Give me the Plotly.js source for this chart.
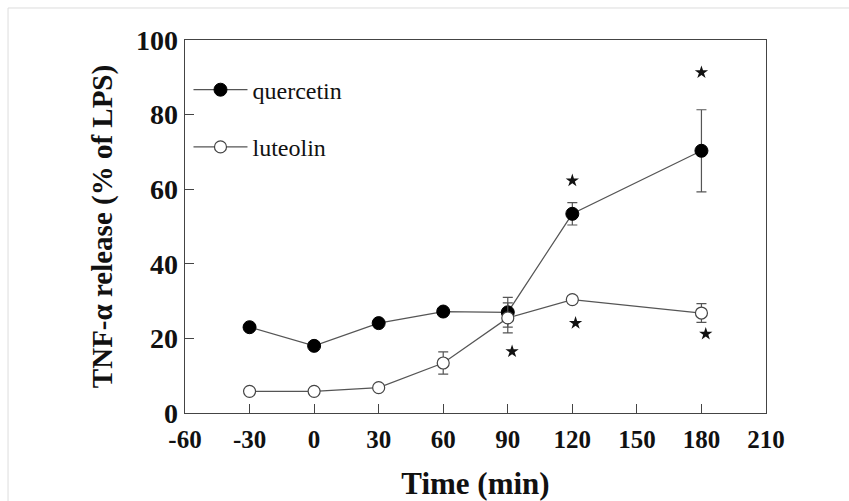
<!DOCTYPE html>
<html>
<head>
<meta charset="utf-8">
<script src="https://cdn.plot.ly/plotly-3.0.1.min.js"></script>
<style>html,body{margin:0;padding:0;background:#fff;}#chart{width:849px;height:501px;}</style>
</head>
<body>
<div id="chart"></div>
<script>
// Data
const timeMin = [-30, 0, 30, 60, 90, 120, 180];
const quercetin = [23, 18, 24.1, 27.2, 27, 53.4, 70.3];
const quercetinErr = [null, null, null, null, 4, 3, 11];
const luteolin = [5.8, 5.8, 6.8, 13.4, 25.5, 30.4, 26.8];
const luteolinErr = [null, null, null, 3, 4, 1, 2.5];
// significance markers (*)
const starX = [120, 180, 92, 121.5, 182];
const starY = [62.3, 91.3, 16.5, 24.1, 21.2];
const xTicks = [-60, -30, 0, 30, 60, 90, 120, 150, 180, 210];
const yTicks = [0, 20, 40, 60, 80, 100];

const serif = 'Liberation Serif';
const lineCol = '#555';

const traces = [
  {
    x: timeMin, y: quercetin, name: 'quercetin', type: 'scatter', mode: 'lines+markers',
    legendgroup: 'q',
    line: {color: lineCol, width: 1.2},
    marker: {symbol: 'circle', size: 13, color: '#000', line: {color: '#000', width: 1}},
    error_y: {type: 'data', array: quercetinErr, visible: true, color: lineCol, thickness: 1.2, width: 5}
  },
  {
    x: timeMin, y: luteolin, name: 'luteolin', type: 'scatter', mode: 'lines+markers',
    legendgroup: 'l',
    line: {color: lineCol, width: 1.2},
    marker: {symbol: 'circle', size: 12, color: '#fff', line: {color: '#444', width: 1.2}},
    error_y: {type: 'data', array: luteolinErr, visible: true, color: lineCol, thickness: 1.2, width: 5}
  },
  {
    x: starX, y: starY, type: 'scatter', mode: 'markers', showlegend: false, hoverinfo: 'skip',
    marker: {symbol: 'star', size: 10, color: '#111'}
  }
];

const layout = {
  width: 849, height: 501,
  margin: {l: 185, r: 83, t: 40, b: 88},
  paper_bgcolor: '#fff', plot_bgcolor: '#fff',
  font: {family: serif, color: '#111'},
  showlegend: true,
  legend: {
    x: 0.006, y: 0.926, xanchor: 'left', yanchor: 'top',
    bgcolor: 'rgba(0,0,0,0)', borderwidth: 0,
    font: {family: serif, size: 24, color: '#111'},
    itemwidth: 54,
    traceorder: 'grouped', tracegroupgap: 23
  },
  xaxis: {
    range: [-60, 210], tickvals: xTicks, ticktext: xTicks.map(String),
    showgrid: false, zeroline: false,
    showline: true, linecolor: '#444', linewidth: 1.3, mirror: true,
    ticks: 'inside', ticklen: 9, tickwidth: 1.2, tickcolor: '#444',
    tickfont: {family: serif, size: 25, color: '#111', weight: 'bold'},
    ticklabelstandoff: 4,
    title: {text: 'Time (min)', font: {family: serif, size: 31, color: '#111', weight: 'bold'}, standoff: 23}
  },
  yaxis: {
    range: [0, 100], tickvals: yTicks, ticktext: yTicks.map(String),
    showgrid: false, zeroline: false,
    showline: true, linecolor: '#444', linewidth: 1.3, mirror: true,
    ticks: 'inside', ticklen: 9, tickwidth: 1.2, tickcolor: '#444',
    tickfont: {family: serif, size: 28, color: '#111', weight: 'bold'},
    ticklabelstandoff: 0,
    title: {text: 'TNF-α release (% of LPS)', font: {family: serif, size: 29, color: '#111', weight: 'bold'}, standoff: 15}
  },
  shapes: [
    {type: 'rect', xref: 'paper', yref: 'paper', x0: -0.3046, x1: 1.2, y0: -0.4, y1: 1.0858,
     line: {color: '#ddd', width: 1}, fillcolor: 'rgba(0,0,0,0)', layer: 'below'}
  ]
};

Plotly.newPlot('chart', traces, layout, {staticPlot: true, displayModeBar: false});
</script>
</body>
</html>
